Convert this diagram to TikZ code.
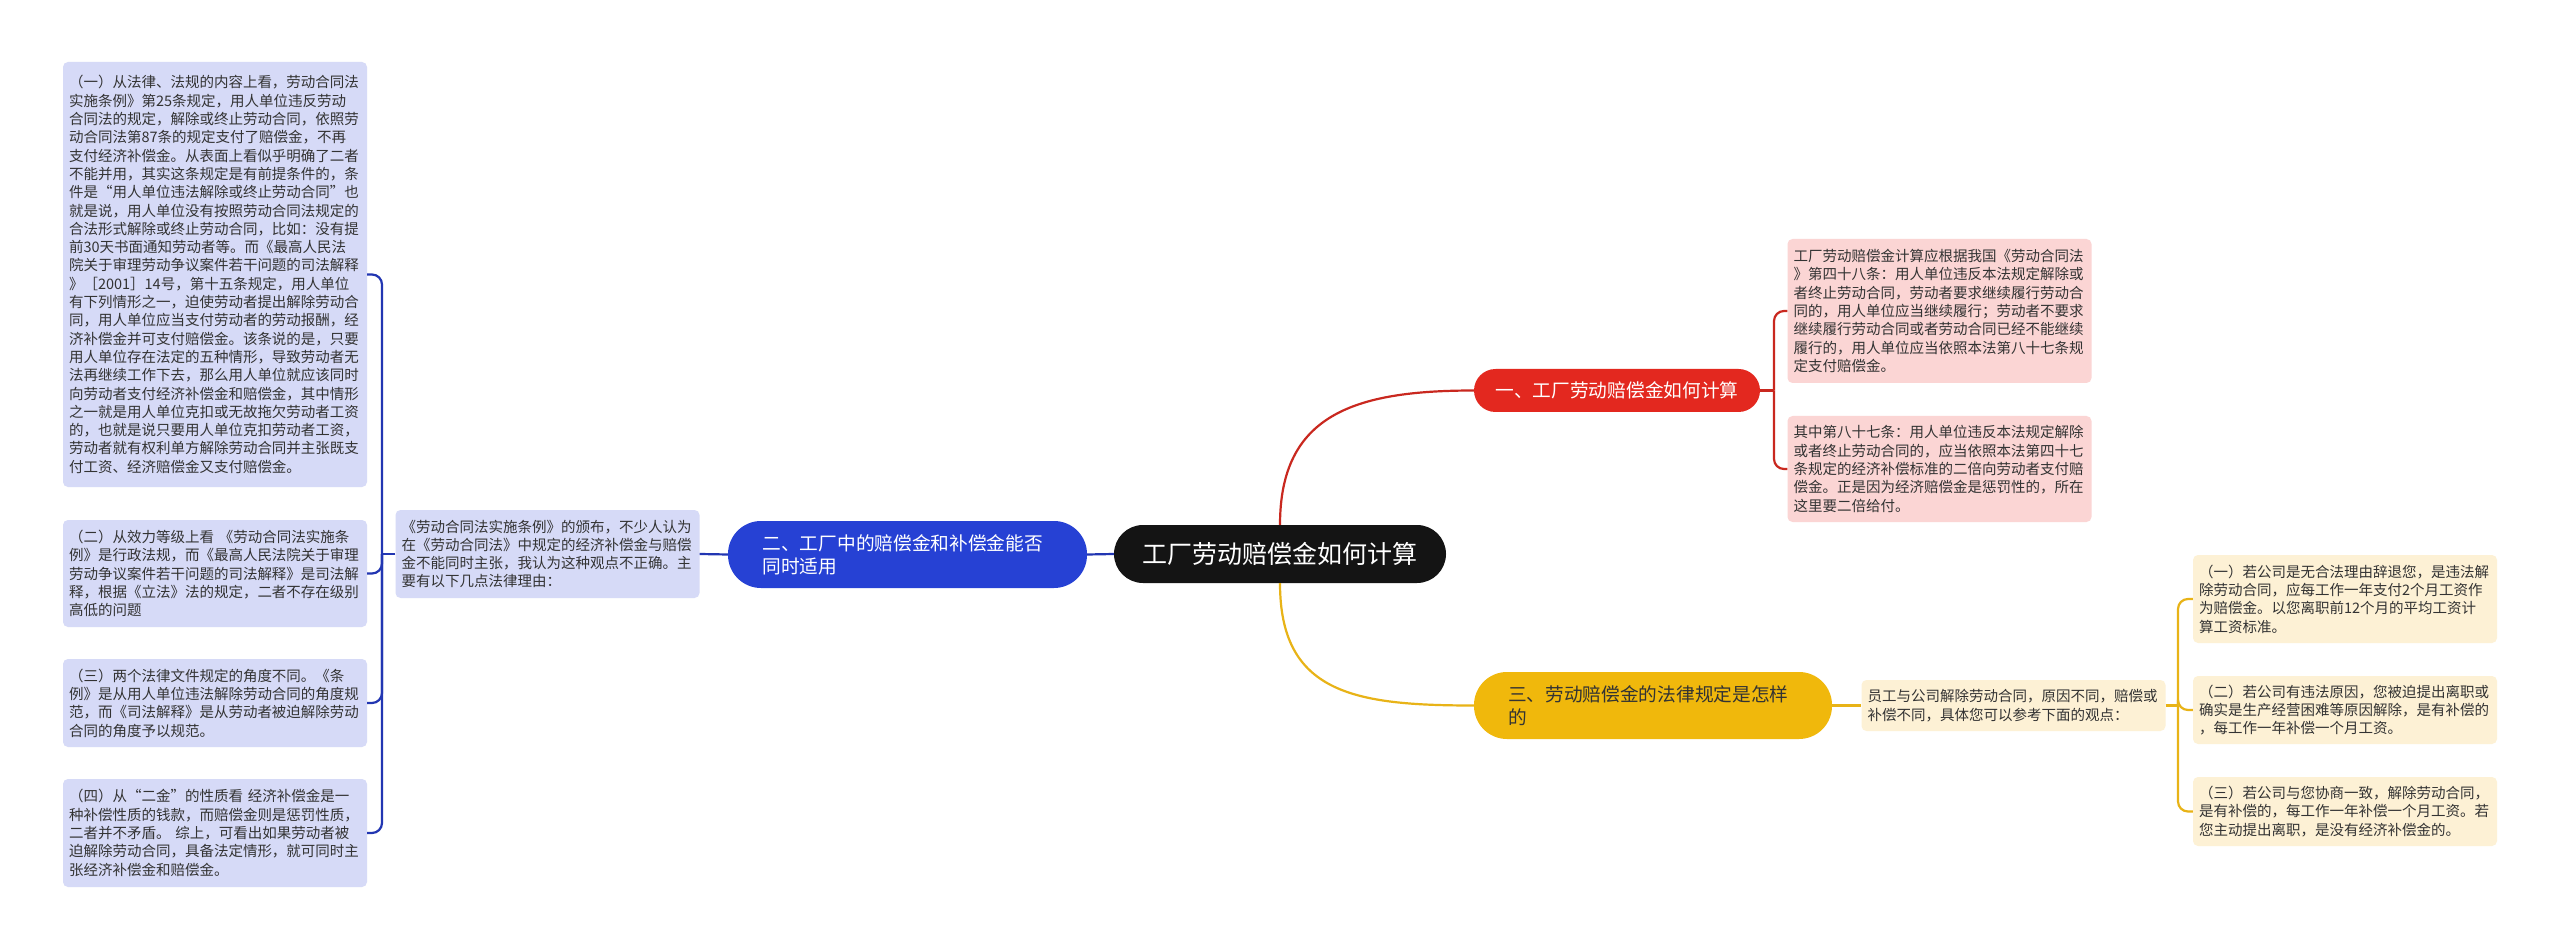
\documentclass[tikz,border=0pt]{standalone}
\usepackage{fontspec}
\setmainfont{Noto Sans CJK SC}
\definecolor{txt}{HTML}{333333}
\definecolor{lav}{HTML}{D6DAF7}
\definecolor{bluenode}{HTML}{2641D4}
\definecolor{blueline}{HTML}{2236B2}
\definecolor{blacknode}{HTML}{141414}
\definecolor{rednode}{HTML}{E3281F}
\definecolor{redline}{HTML}{C9281F}
\definecolor{pinkbox}{HTML}{FBD5D4}
\definecolor{yelnode}{HTML}{F0B80C}
\definecolor{yelline}{HTML}{E8B317}
\definecolor{cream}{HTML}{FDF1D5}
\tikzset{
  leaf/.style={rounded corners=5pt, inner xsep=6pt, inner ysep=0pt, text width=292pt, align=left,
    font=\fontsize{14.5}{18.3}\selectfont, text=txt},
  lavbox/.style={leaf, fill=lav},
  pinkleaf/.style={leaf, fill=pinkbox},
  creamleaf/.style={leaf, fill=cream},
  pill/.style={inner sep=0pt, font=\fontsize{18.7}{23}\selectfont},
  bl/.style={draw=blueline, line width=2.2pt},
  rl/.style={draw=redline, line width=2.2pt},
  yl/.style={draw=yelline, line width=2.2pt},
}
\begin{document}
\begin{tikzpicture}[x=1pt,y=-1pt]
\useasboundingbox[fill=white] (0,0) rectangle (2560,949);

% center
\node[pill, fill=blacknode, text=white, rounded corners=29pt, minimum width=332pt, minimum height=58pt,
  font=\fontsize{25}{30}\selectfont] (root) at (1280,554) {工厂劳动赔偿金如何计算};

% left branch
\node[pill, fill=bluenode, text=white, rounded corners=33pt, minimum width=359pt, minimum height=67pt,
  text width=290pt, align=left] (blue) at (907.5,554.5) {二、工厂中的赔偿金和补偿金能否\\同时适用};

\node[lavbox, minimum height=88pt] (mid) at (547.5,554) {《劳动合同法实施条例》的颁布，不少人认为\\在《劳动合同法》中规定的经济补偿金与赔偿\\金不能同时主张，我认为这种观点不正确。主\\要有以下几点法律理由：};

\node[lavbox, minimum height=425pt] (l1) at (215,274.5) {（一）从法律、法规的内容上看，劳动合同法\\实施条例》第25条规定，用人单位违反劳动\\合同法的规定，解除或终止劳动合同，依照劳\\动合同法第87条的规定支付了赔偿金，不再\\支付经济补偿金。从表面上看似乎明确了二者\\不能并用，其实这条规定是有前提条件的，条\\件是“用人单位违法解除或终止劳动合同”也\\就是说，用人单位没有按照劳动合同法规定的\\合法形式解除或终止劳动合同，比如：没有提\\前30天书面通知劳动者等。而《最高人民法\\院关于审理劳动争议案件若干问题的司法解释\\》［2001］14号，第十五条规定，用人单位\\有下列情形之一，迫使劳动者提出解除劳动合\\同，用人单位应当支付劳动者的劳动报酬，经\\济补偿金并可支付赔偿金。该条说的是，只要\\用人单位存在法定的五种情形，导致劳动者无\\法再继续工作下去，那么用人单位就应该同时\\向劳动者支付经济补偿金和赔偿金，其中情形\\之一就是用人单位克扣或无故拖欠劳动者工资\\的，也就是说只要用人单位克扣劳动者工资，\\劳动者就有权利单方解除劳动合同并主张既支\\付工资、经济赔偿金又支付赔偿金。};

\node[lavbox, minimum height=107pt] (l2) at (215,573.5) {（二）从效力等级上看 《劳动合同法实施条\\例》是行政法规，而《最高人民法院关于审理\\劳动争议案件若干问题的司法解释》是司法解\\释，根据《立法》法的规定，二者不存在级别\\高低的问题};

\node[lavbox, minimum height=88pt] (l3) at (215,703) {（三）两个法律文件规定的角度不同。《条\\例》是从用人单位违法解除劳动合同的角度规\\范，而《司法解释》是从劳动者被迫解除劳动\\合同的角度予以规范。};

\node[lavbox, minimum height=108pt] (l4) at (215,833) {（四）从“二金”的性质看 经济补偿金是一\\种补偿性质的钱款，而赔偿金则是惩罚性质，\\二者并不矛盾。 综上，可看出如果劳动者被\\迫解除劳动合同，具备法定情形，就可同时主\\张经济补偿金和赔偿金。};

\coordinate (lb) at (382,554);
\draw[bl] (root.west) -- (blue.east);
\draw[bl] (blue.west) -- (mid.east);
\draw[bl] (mid.west) -- (lb);
\draw[bl, rounded corners=10pt] (lb) |- (l1.east);
\draw[bl, rounded corners=10pt] (lb) |- (l2.east);
\draw[bl, rounded corners=10pt] (lb) |- (l3.east);
\draw[bl, rounded corners=10pt] (lb) |- (l4.east);

% red branch
\node[pill, fill=rednode, text=white, rounded corners=21.5pt, minimum width=286pt, minimum height=43pt]
  (red) at (1617,390.5) {一、工厂劳动赔偿金如何计算};
\node[pinkleaf, minimum height=144pt] (p1) at (1939.5,311) {工厂劳动赔偿金计算应根据我国《劳动合同法\\》第四十八条：用人单位违反本法规定解除或\\者终止劳动合同，劳动者要求继续履行劳动合\\同的，用人单位应当继续履行；劳动者不要求\\继续履行劳动合同或者劳动合同已经不能继续\\履行的，用人单位应当依照本法第八十七条规\\定支付赔偿金。};
\node[pinkleaf, minimum height=106pt] (p2) at (1939.5,469) {其中第八十七条：用人单位违反本法规定解除\\或者终止劳动合同的，应当依照本法第四十七\\条规定的经济补偿标准的二倍向劳动者支付赔\\偿金。正是因为经济赔偿金是惩罚性的，所在\\这里要二倍给付。};
\coordinate (rb) at (1774,390.5);
\draw[rl] (root.north) .. controls +(0,-110) and +(-120,0) .. (red.west);
\draw[rl] (red.east) -- (rb);
\draw[rl, rounded corners=10pt] (rb) |- (p1.west);
\draw[rl, rounded corners=10pt] (rb) |- (p2.west);

% yellow branch
\node[pill, fill=yelnode, text=txt, rounded corners=33pt, minimum width=358pt, minimum height=67pt,
  text width=290pt, align=left] (yel) at (1653,705.5) {三、劳动赔偿金的法律规定是怎样\\的};
\node[creamleaf, minimum height=51pt] (ym) at (2013.5,705.5) {员工与公司解除劳动合同，原因不同，赔偿或\\补偿不同，具体您可以参考下面的观点：};
\node[creamleaf, minimum height=88pt] (y1) at (2345,599) {（一）若公司是无合法理由辞退您，是违法解\\除劳动合同，应每工作一年支付2个月工资作\\为赔偿金。以您离职前12个月的平均工资计\\算工资标准。};
\node[creamleaf, minimum height=68pt] (y2) at (2345,710) {（二）若公司有违法原因，您被迫提出离职或\\确实是生产经营困难等原因解除，是有补偿的\\，每工作一年补偿一个月工资。};
\node[creamleaf, minimum height=69pt] (y3) at (2345,811.5) {（三）若公司与您协商一致，解除劳动合同，\\是有补偿的，每工作一年补偿一个月工资。若\\您主动提出离职，是没有经济补偿金的。};
\coordinate (yb) at (2178,705.5);
\draw[yl] (root.south) .. controls +(0,110) and +(-120,0) .. (yel.west);
\draw[yl] (yel.east) -- (ym.west);
\draw[yl] (ym.east) -- (yb);
\draw[yl, rounded corners=10pt] (yb) |- (y1.west);
\draw[yl, rounded corners=10pt] (yb) |- (y2.west);
\draw[yl, rounded corners=10pt] (yb) |- (y3.west);
\end{tikzpicture}
\end{document}
